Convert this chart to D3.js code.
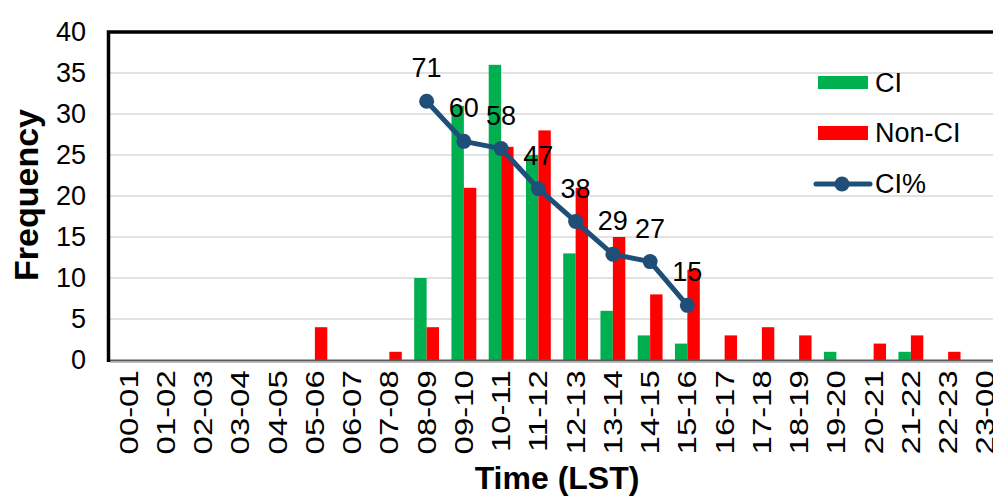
<!DOCTYPE html>
<html>
<head>
<meta charset="utf-8">
<script src="https://cdn.jsdelivr.net/npm/d3@7"></script>
<style>
  html, body { margin: 0; padding: 0; background: #fff; overflow: hidden; }
  svg { display: block; font-family: "Liberation Sans", Arial, sans-serif; }
</style>
</head>
<body>
<svg id="chart" width="993" height="496"></svg>
<script>
// Hourly bins (local standard time)
const hours = ["00-01","01-02","02-03","03-04","04-05","05-06","06-07","07-08",
  "08-09","09-10","10-11","11-12","12-13","13-14","14-15","15-16",
  "16-17","17-18","18-19","19-20","20-21","21-22","22-23","23-00"];
// Counts per bin
const ciCounts    = [0,0,0,0,0,0,0,0,10,31,36,25,13,6,3,2,0,0,0,1,0,1,0,0];
const nonCiCounts = [0,0,0,0,0,4,0,1,4,21,26,28,21,15,8,11,3,4,3,0,2,3,1,0];
// CI share (%) for the daytime bins
const pctHours  = ["08-09","09-10","10-11","11-12","12-13","13-14","14-15","15-16"];
const ciPercent = [71,60,58,47,38,29,27,15];
const yTicks = [0,5,10,15,20,25,30,35,40];

const svg = d3.select("#chart");
const margin = { left: 110, top: 32, bottom: 360 };
const bandW = 37.25;
const right = margin.left + bandW * hours.length;

const x = d3.scaleBand().domain(hours).range([margin.left, right]).paddingInner(0).paddingOuter(0);
const y = d3.scaleLinear().domain([0, 40]).range([margin.bottom, margin.top]);
const y2 = d3.scaleLinear().domain([0, 90]).range([margin.bottom, margin.top]);
const sub = d3.scaleBand().domain(["ci","non"]).range([0, x.bandwidth()]).paddingOuter(0.5).paddingInner(0);

// gridlines
svg.append("g").selectAll("line").data(yTicks.filter(t => t > 0 && t < 40)).join("line")
  .attr("x1", margin.left).attr("x2", right)
  .attr("y1", d => y(d)).attr("y2", d => y(d))
  .attr("stroke", "#d9d9d9").attr("stroke-width", 1.5);

// bars
const groups = svg.append("g").selectAll("g").data(hours).join("g")
  .attr("transform", d => `translate(${x(d)},0)`);
groups.append("rect")
  .attr("x", sub("ci")).attr("width", sub.bandwidth())
  .attr("y", (d, i) => y(ciCounts[i])).attr("height", (d, i) => y(0) - y(ciCounts[i]))
  .attr("fill", "#00b050");
groups.append("rect")
  .attr("x", sub("non")).attr("width", sub.bandwidth())
  .attr("y", (d, i) => y(nonCiCounts[i])).attr("height", (d, i) => y(0) - y(nonCiCounts[i]))
  .attr("fill", "#ff0000");

// bottom axis line
svg.append("line").attr("x1", margin.left).attr("x2", right)
  .attr("y1", y(0) + 0.5).attr("y2", y(0) + 0.5)
  .attr("stroke", "#595959").attr("stroke-width", 1.8);
svg.append("line").attr("x1", margin.left).attr("x2", right)
  .attr("y1", y(0) + 2.5).attr("y2", y(0) + 2.5)
  .attr("stroke", "#bfbfbf").attr("stroke-width", 1.2);

// plot frame (left + top)
svg.append("path")
  .attr("d", `M${margin.left - 1.5},${y(0) + 2}V${margin.top}H${right + 5}`)
  .attr("fill", "none").attr("stroke", "#000").attr("stroke-width", 3.5);

// y axis labels
const yAxis = d3.axisLeft(y).tickValues(yTicks).tickSize(0).tickPadding(24);
const gy = svg.append("g").attr("transform", `translate(${margin.left},0)`).call(yAxis);
gy.select(".domain").remove();
gy.selectAll("text").attr("font-size", 27).attr("fill", "#000")
  .attr("font-family", "Liberation Sans, Arial, sans-serif");

// x axis labels (rotated, slightly elongated along the text)
const xAxis = d3.axisBottom(x).tickSize(0).tickPadding(0);
const gx = svg.append("g").attr("transform", `translate(0,${y(0)})`).call(xAxis);
gx.select(".domain").remove();
gx.selectAll(".tick text")
  .attr("font-size", 25.5).attr("fill", "#000")
  .attr("font-family", "Liberation Sans, Arial, sans-serif")
  .attr("text-anchor", "end")
  .attr("transform", "rotate(-90) scale(1.29,1)")
  .attr("x", -8).attr("y", 0).attr("dy", "0.35em");

// CI% line
const line = d3.line().x((d, i) => x(pctHours[i]) + x.bandwidth() / 2).y(d => y2(d));
svg.append("path").datum(ciPercent).attr("d", line)
  .attr("fill", "none").attr("stroke", "#1f4e79").attr("stroke-width", 5)
  .attr("stroke-linejoin", "round");
svg.append("g").selectAll("circle").data(ciPercent).join("circle")
  .attr("cx", (d, i) => x(pctHours[i]) + x.bandwidth() / 2)
  .attr("cy", d => y2(d)).attr("r", 7.5).attr("fill", "#1f4e79");
svg.append("g").selectAll("text").data(ciPercent).join("text")
  .attr("x", (d, i) => x(pctHours[i]) + x.bandwidth() / 2)
  .attr("y", d => y2(d) - 24)
  .attr("text-anchor", "middle").attr("font-size", 27).attr("fill", "#000")
  .text(d => d);

// legend
const legend = svg.append("g");
legend.append("rect").attr("x", 818).attr("y", 76).attr("width", 50).attr("height", 13).attr("fill", "#00b050");
legend.append("rect").attr("x", 818).attr("y", 126).attr("width", 50).attr("height", 14).attr("fill", "#ff0000");
legend.append("line").attr("x1", 816).attr("x2", 870).attr("y1", 184).attr("y2", 184)
  .attr("stroke", "#1f4e79").attr("stroke-width", 5).attr("stroke-linecap", "round");
legend.append("circle").attr("cx", 842).attr("cy", 184).attr("r", 7.5).attr("fill", "#1f4e79");
[["CI", 83], ["Non-CI", 133], ["CI%", 184]].forEach(([t, cy]) => {
  legend.append("text").attr("x", 875).attr("y", cy).attr("dy", "0.35em")
    .attr("font-size", 27).attr("fill", "#000").text(t);
});

// axis titles
svg.append("text").attr("transform", "translate(38,195) rotate(-90)")
  .attr("text-anchor", "middle").attr("font-size", 34).attr("font-weight", "bold")
  .text("Frequency");
svg.append("text").attr("x", (margin.left + right) / 2).attr("y", 489)
  .attr("text-anchor", "middle").attr("font-size", 32).attr("font-weight", "bold")
  .text("Time (LST)");
</script>
</body>
</html>
